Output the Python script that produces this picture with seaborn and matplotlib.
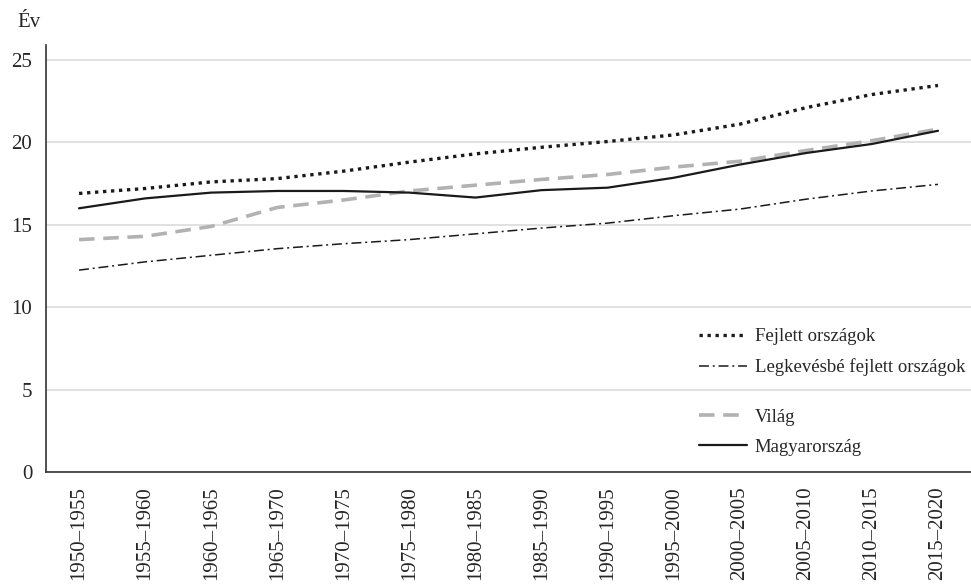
import seaborn as sns
import matplotlib.pyplot as plt
import pandas as pd
from matplotlib.ticker import FixedLocator

sns.set_style('white')
plt.rcParams['font.family'] = ['Liberation Serif', 'DejaVu Serif']

# periods on the x axis
periods = ['1950–1955', '1955–1960', '1960–1965', '1965–1970', '1970–1975',
           '1975–1980', '1980–1985', '1985–1990', '1990–1995', '1995–2000',
           '2000–2005', '2005–2010', '2010–2015', '2015–2020']

# values (years)
fejlett = [16.9, 17.2, 17.6, 17.8, 18.25, 18.8, 19.3, 19.7, 20.05, 20.45,
           21.1, 22.1, 22.9, 23.45]
legkevesbe = [12.25, 12.75, 13.15, 13.55, 13.85, 14.1, 14.45, 14.8, 15.1,
              15.55, 15.95, 16.55, 17.05, 17.45]
vilag = [14.1, 14.3, 14.9, 16.05, 16.5, 17.05, 17.4, 17.75, 18.05, 18.5,
         18.85, 19.5, 20.1, 20.8]
magyar = [16.0, 16.6, 16.95, 17.05, 17.05, 16.95, 16.65, 17.1, 17.25, 17.85,
          18.65, 19.35, 19.9, 20.7]

df = pd.DataFrame({
    'pos': range(len(periods)),
    'period': periods,
    'Fejlett országok': fejlett,
    'Legkevésbé fejlett országok': legkevesbe,
    'Világ': vilag,
    'Magyarország': magyar,
})

fig = plt.figure(figsize=(9.71, 5.85), dpi=100)
ax = fig.add_axes([0.0474, 0.193, 0.9526, 0.730])

# gridlines first so the lines sit on top
ax.set_axisbelow(True)
ax.yaxis.grid(True, color='#dcdcdc', linewidth=1.2)

sns.lineplot(data=df, x='pos', y='Világ', ax=ax, color='#b2b2b2',
             linewidth=2.6, label='Világ')
ax.lines[-1].set_dashes((4.3, 2.4))
sns.lineplot(data=df, x='pos', y='Legkevésbé fejlett országok', ax=ax,
             color='#1a1a1a', linewidth=1.1, label='Legkevésbé fejlett országok')
ax.lines[-1].set_dashes((6.5, 2.5, 1.3, 2.5))
sns.lineplot(data=df, x='pos', y='Magyarország', ax=ax, color='#1a1a1a',
             linewidth=1.6, label='Magyarország')
sns.lineplot(data=df, x='pos', y='Fejlett országok', ax=ax, color='#1a1a1a',
             linewidth=2.4, label='Fejlett országok')
ax.lines[-1].set_dashes((1, 1.4))

ax.set_xlim(-0.5, len(periods) - 0.5)
ax.set_ylim(0, 25.9)
ax.set_yticks([0, 5, 10, 15, 20, 25])
ax.set_xticks(df['pos'])
ax.set_xticklabels(periods, rotation=90)
ax.xaxis.set_minor_locator(FixedLocator([p - 0.5 for p in range(len(periods) + 1)]))
ax.tick_params(axis='x', which='major', length=0, labelsize=15, pad=10)
ax.tick_params(axis='x', which='minor', length=7, width=1, color='#333333',
               direction='out')
ax.tick_params(axis='y', length=7, width=1, color='#333333', labelsize=15,
               direction='out', pad=3)
ax.set_xlabel('')
ax.set_ylabel('')

for side in ['top', 'right']:
    ax.spines[side].set_visible(False)
for side in ['left', 'bottom']:
    ax.spines[side].set_color('#333333')
    ax.spines[side].set_linewidth(1.2)

fig.text(0.018, 0.962, 'Év', fontsize=15, ha='left', va='center')

# legend in two groups, as in the original
lines = {l.get_label(): l for l in ax.lines}
leg_kw = dict(loc='upper left', frameon=False, fontsize=13.5, handlelength=2.55,
              handletextpad=0.42, labelspacing=0.7, borderpad=0,
              borderaxespad=0)
top_names = ['Fejlett országok', 'Legkevésbé fejlett országok']
low_names = ['Világ', 'Magyarország']
leg1 = ax.legend([lines[n] for n in top_names], top_names,
                 bbox_to_anchor=(0.706, 0.337), **leg_kw)
ax.add_artist(leg1)
ax.legend([lines[n] for n in low_names], low_names,
          bbox_to_anchor=(0.706, 0.149), **leg_kw)

fig.savefig('out.png', dpi=100)
